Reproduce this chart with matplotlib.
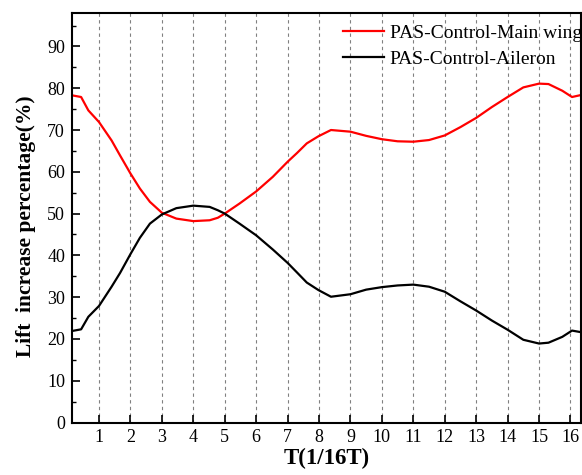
import matplotlib
matplotlib.use("Agg")
import matplotlib.pyplot as plt
from matplotlib.ticker import MultipleLocator

plt.rcParams['font.family'] = ['Liberation Serif', 'DejaVu Serif']
plt.rcParams['mathtext.fontset'] = 'stix'

# phase positions (in 1/16 of a period) and lift increase (%) for each surface
t = [0.14, 0.43, 0.66, 1.0, 1.4, 1.67, 2.0, 2.3, 2.62, 3.0, 3.46, 4.0, 4.52, 4.78,
     5.0, 5.47, 6.0, 6.53, 7.0, 7.3, 7.61, 7.98, 8.38, 9.0, 9.5, 10.0, 10.5, 11.0,
     11.5, 12.0, 12.5, 13.0, 13.5, 14.0, 14.5, 15.0, 15.3, 15.74, 16.05, 16.35]
main_wing = [78.3, 77.9, 74.7, 71.9, 67.5, 63.9, 59.6, 56.0, 52.8, 50.2, 48.8, 48.2, 48.4, 49.0,
             50.0, 52.4, 55.3, 58.8, 62.4, 64.5, 66.8, 68.5, 70.0, 69.6, 68.6, 67.8, 67.3, 67.2,
             67.6, 68.7, 70.7, 72.9, 75.5, 77.9, 80.2, 81.1, 81.0, 79.4, 77.9, 78.4]
aileron = [21.9, 22.3, 25.3, 27.9, 32.5, 35.8, 40.3, 44.2, 47.6, 49.8, 51.3, 51.9, 51.6, 50.8,
           50.0, 47.6, 44.8, 41.4, 38.2, 35.9, 33.5, 31.7, 30.1, 30.7, 31.8, 32.4, 32.8, 33.0,
           32.5, 31.3, 29.0, 26.8, 24.4, 22.2, 19.8, 18.9, 19.1, 20.5, 22.0, 21.6]
xticks = list(range(1, 17))
yticks = list(range(0, 100, 10))

fig = plt.figure(figsize=(5.82, 4.75), dpi=100)
ax = fig.add_axes([0.1237, 0.1105, 0.8743, 0.8621])

for x in xticks:
    ax.axvline(x, color='0.5', lw=0.8, ls=(0, (3, 3)), zorder=0)

ax.plot(t, main_wing, color='#ff0000', lw=1.6, label='PAS-Control-Main wing')
ax.plot(t, aileron, color='black', lw=1.6, label='PAS-Control-Aileron')

ax.set_xlim(0.14, 16.33)
ax.set_ylim(0, 98)
ax.set_xticks(xticks)
ax.set_yticks(yticks)
ax.yaxis.set_minor_locator(MultipleLocator(5))
ax.tick_params(axis='both', which='major', direction='in', length=5.5, width=1.2,
               labelsize=13, pad=5)
ax.tick_params(axis='y', which='minor', direction='in', length=3, width=1.0)
for sp in ax.spines.values():
    sp.set_linewidth(1.5)

ax.set_xlabel('T(1/16T)', fontsize=16.5, fontweight='bold')
ax.set_ylabel('Lift  increase percentage(%)', fontsize=15.5, fontweight='bold')
ax.xaxis.set_label_coords(0.5, -0.062)
ax.yaxis.set_label_coords(-0.071, 0.479)

ax.legend(loc='upper left', bbox_to_anchor=(343 / 582, 1 - 24 / 475),
          bbox_transform=fig.transFigure, frameon=False, fontsize=14,
          handlelength=2.1, handletextpad=0.3, labelspacing=0.45, borderpad=0,
          borderaxespad=0)

fig.savefig('out.png', dpi=100)
